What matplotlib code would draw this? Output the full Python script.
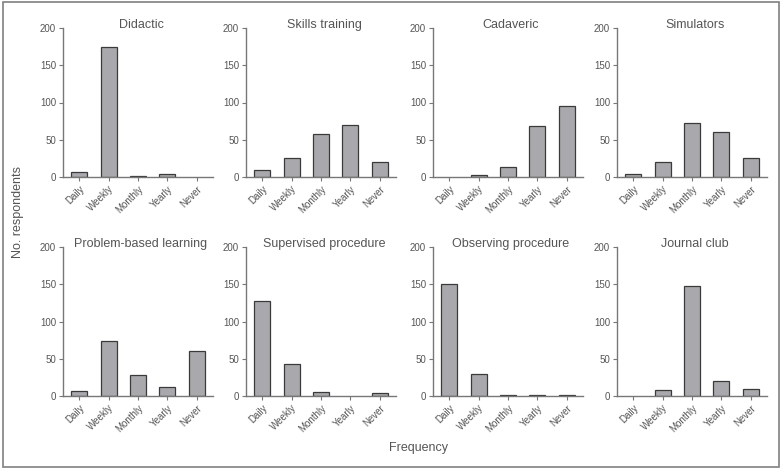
import matplotlib
matplotlib.use("Agg")
import matplotlib.pyplot as plt
from matplotlib.patches import Rectangle

plt.rcParams['font.family'] = ['Liberation Sans', 'DejaVu Sans']

freq = ['Daily', 'Weekly', 'Monthly', 'Yearly', 'Never']
titles = ['Didactic', 'Skills training', 'Cadaveric', 'Simulators',
          'Problem-based learning', 'Supervised procedure',
          'Observing procedure', 'Journal club']

didactic = [7, 175, 2, 4, 0]
skills = [10, 25, 58, 70, 20]
cadaveric = [0, 3, 14, 68, 95]
simulators = [4, 20, 72, 61, 26]
pbl = [7, 74, 28, 12, 60]
supervised = [128, 43, 6, 0, 4]
observing = [150, 30, 2, 1, 1]
journal = [0, 8, 147, 20, 10]

series = [didactic, skills, cadaveric, simulators,
          pbl, supervised, observing, journal]

W, H = 782, 471
fig = plt.figure(figsize=(W / 100, H / 100), dpi=100)

txt = '#555555'
spine = '#777777'

lefts = [63, 246, 433, 617]
bottoms = [177, 396]   # pixel y of the zero line
ax_w, ax_h = 150, 149

for i, (title, vals) in enumerate(zip(titles, series)):
    r, c = divmod(i, 4)
    ax = fig.add_axes([lefts[c] / W, 1 - bottoms[r] / H, ax_w / W, ax_h / H])
    bars = ax.bar(range(len(freq)), vals, width=0.54, color='#a9a9ad',
                  edgecolor='#3a3a3a', linewidth=0.9)
    # empty categories show no outline in the original
    for b, v in zip(bars, vals):
        if v == 0:
            b.set_linewidth(0)
    ax.set_xlim(-0.55, 4.55)
    ax.set_ylim(0, 200)
    ax.set_yticks([0, 50, 100, 150, 200])
    ax.set_xticks(range(len(freq)))
    ax.set_xticklabels(freq, rotation=45, ha='right', rotation_mode='anchor')
    for s in ['top', 'right']:
        ax.spines[s].set_visible(False)
    for s in ['left', 'bottom']:
        ax.spines[s].set_color(spine)
        ax.spines[s].set_linewidth(1.0)
    ax.tick_params(colors=spine, labelcolor=txt, labelsize=7,
                   length=3, width=0.8, pad=2)
    ax.patch.set_alpha(0)
    ax.text(0.52, 1.0, title, transform=ax.transAxes, ha='center',
            va='baseline', fontsize=9, color=txt)

fig.text(18 / W, 1 - 212 / H, 'No. respondents', rotation=90,
         ha='center', va='center', fontsize=9, color=txt)
fig.text(418 / W, 1 - 448 / H, 'Frequency', ha='center', va='center',
         fontsize=9, color=txt)

fig.patches.append(Rectangle((3 / W, 1 - 467 / H), 776 / W, 465 / H,
                             transform=fig.transFigure, fill=False,
                             edgecolor='#808080', linewidth=1.2))

fig.savefig('out.png', dpi=100)
